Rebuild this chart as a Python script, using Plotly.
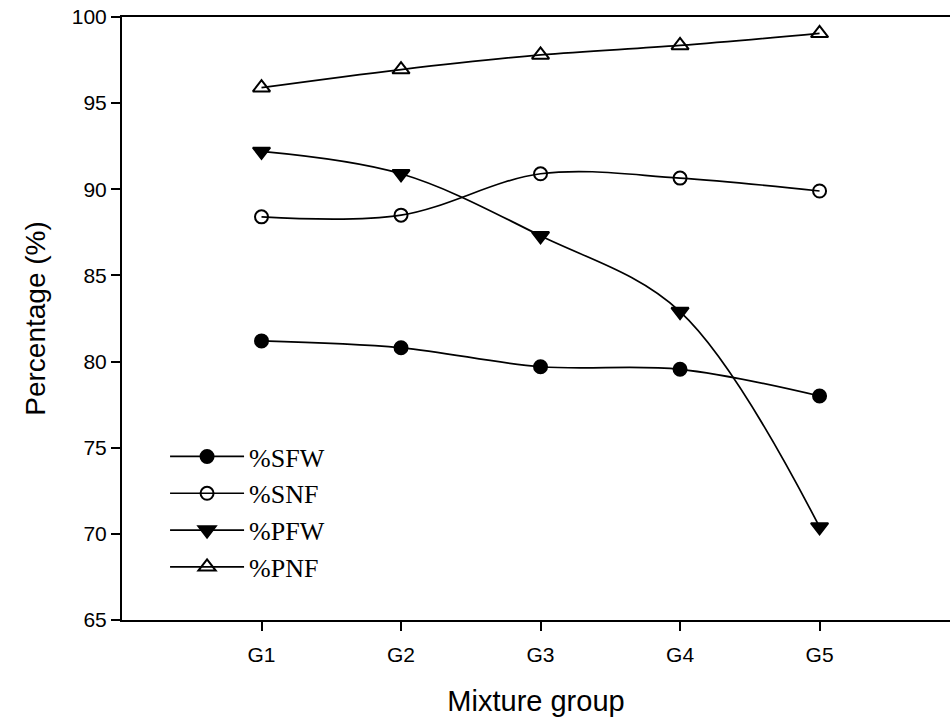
import plotly.graph_objects as go

groups = ["G1", "G2", "G3", "G4", "G5"]
sfw = [81.2, 80.8, 79.7, 79.55, 78.0]
snf = [88.4, 88.5, 90.9, 90.65, 89.9]
pfw = [92.2, 90.9, 87.3, 82.9, 70.4]
pnf = [95.9, 96.95, 97.8, 98.35, 99.05]

series = [
    ("%SFW", sfw, "circle", "black", 13),
    ("%SNF", snf, "circle-open", "black", 13),
    ("%PFW", pfw, "triangle-down", "black", 15),
    ("%PNF", pnf, "triangle-up-open", "black", 15),
]

fig = go.Figure()
for i, (name, vals, sym, col, sz) in enumerate(series):
    fig.add_trace(go.Scatter(
        x=groups, y=vals, name=name, mode="lines+markers",
        line=dict(color="black", width=1.7, shape="spline", smoothing=1.0),
        marker=dict(symbol=sym, size=sz, color=col,
                    line=dict(color="black", width=2)),
    ))

fig.update_layout(
    width=950, height=722,
    margin=dict(l=122, r=0, t=17, b=102),
    paper_bgcolor="white", plot_bgcolor="white",
    font=dict(family="Liberation Sans, Arial, sans-serif", color="black"),
    showlegend=True,
    legend=dict(
        x=0.052, y=0.31, xanchor="left", yanchor="top",
        bgcolor="rgba(0,0,0,0)",
        font=dict(family="Liberation Serif, Times New Roman, serif", size=26, color="black"),
        itemwidth=74, tracegroupgap=0,
    ),
    xaxis=dict(
        type="category", range=[-1, 4.935],
        showline=True, linecolor="black", linewidth=2, mirror=True,
        ticks="outside", ticklen=9, tickwidth=2, tickcolor="black",
        showgrid=False, zeroline=False,
        tickfont=dict(size=21), ticklabelstandoff=6,
        title=dict(text="Mixture group", font=dict(size=29), standoff=25),
    ),
    yaxis=dict(
        range=[65, 100], tickvals=[65, 70, 75, 80, 85, 90, 95, 100],
        showline=True, linecolor="black", linewidth=2, mirror=False,
        ticks="outside", ticklen=9, tickwidth=2, tickcolor="black",
        showgrid=False, zeroline=False,
        tickfont=dict(size=21),
        title=dict(text="Percentage (%)", font=dict(size=28), standoff=18),
    ),
)

fig.write_html("out.html")
